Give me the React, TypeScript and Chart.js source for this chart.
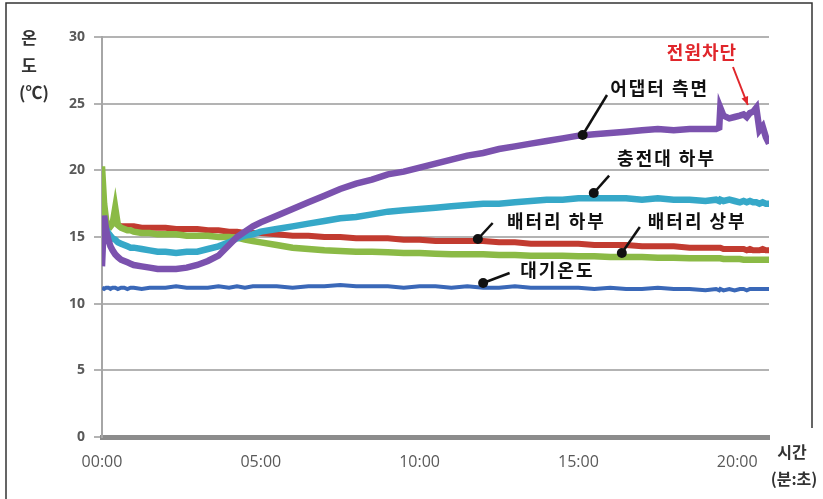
import React, { useEffect, useRef } from 'react';
import { Chart, registerables } from 'chart.js';
Chart.register(...registerables);

// time in seconds since start
const timeSec = [0,4,8,12,16,20,25,30,36,42,48,54,60,75,90,105,120,140,160,180,200,220,240,255,270,285,300,330,360,390,420,450,480,510,540,570,600,630,660,690,720,750,780,810,840,870,900,930,960,990,1020,1050,1080,1110,1140,1160,1166,1168,1174,1185,1195,1205,1212,1218,1224,1230,1236,1242,1248,1254,1260];

// 어댑터 측면
const adapterSide = [12.8,16.6,15.5,14.8,14.3,14.0,13.7,13.5,13.3,13.2, 13.1,13.0,12.9,12.8,12.7,12.6,12.6,12.6,12.7,12.9, 13.2,13.6,14.4,15.0,15.4,15.8,16.1,16.6,17.1,17.6, 18.1,18.6,19.0,19.3,19.7,19.9,20.2,20.5,20.8,21.1, 21.3,21.6,21.8,22.0,22.2,22.4,22.6,22.7,22.8,22.9, 23.0,23.1,23.0,23.1,23.1,23.1,23.2,24.7,24.1,23.9, 24.0,24.1,24.2,24.0,24.3,24.4,24.7,23.0,23.3,22.5, 22.0];
// 충전대 하부
const cradleBottom = [16.2,15.9,15.6,15.3,15.1,14.9,14.8,14.6,14.5,14.4, 14.3,14.2,14.2,14.1,14.0,13.9,13.9,13.8,13.9,13.9, 14.1,14.3,14.6,14.9,15.1,15.2,15.4,15.6,15.8,16.0, 16.2,16.4,16.5,16.7,16.9,17.0,17.1,17.2,17.3,17.4, 17.5,17.5,17.6,17.7,17.8,17.8,17.9,17.9,17.9,17.9, 17.8,17.9,17.8,17.8,17.7,17.8,17.7,17.8,17.7,17.8, 17.7,17.6,17.7,17.6,17.7,17.6,17.6,17.5,17.6,17.5, 17.5];
// 배터리 상부
const batteryTop = [20.3,17.5,16.2,15.9,15.8,16.0,17.2,15.9,15.7,15.6, 15.5,15.5,15.4,15.3,15.3,15.2,15.2,15.2,15.1,15.1, 15.1,15.0,15.0,14.95,14.8,14.7,14.6,14.4,14.2,14.1, 14.0,13.95,13.9,13.9,13.85,13.8,13.8,13.75,13.7,13.7, 13.7,13.65,13.65,13.6,13.6,13.6,13.55,13.55,13.5,13.5, 13.5,13.45,13.45,13.4,13.4,13.4,13.4,13.4,13.35,13.35, 13.35,13.35,13.3,13.3,13.3,13.3,13.3,13.3,13.3,13.3, 13.3];
// 배터리 하부
const batteryBottom = [null,null,null,null,null,null,null,15.9,15.8,15.8, 15.8,15.8,15.8,15.7,15.7,15.7,15.7,15.6,15.6,15.6, 15.5,15.5,15.4,15.4,15.3,15.3,15.3,15.2,15.1,15.1, 15.0,15.0,14.9,14.9,14.9,14.8,14.8,14.7,14.7,14.7, 14.7,14.6,14.6,14.5,14.5,14.5,14.5,14.4,14.4,14.4, 14.3,14.3,14.3,14.2,14.2,14.2,14.2,14.2,14.1,14.1, 14.1,14.1,14.1,14.0,14.1,14.0,14.0,14.0,14.1,14.0, 14.0];
// 대기온도
const airTemp = [11.2,11.1,11.2,11.2,11.1,11.2,11.2,11.1,11.2,11.2, 11.1,11.2,11.2,11.1,11.2,11.2,11.2,11.3,11.2,11.2, 11.2,11.3,11.2,11.3,11.2,11.3,11.3,11.3,11.2,11.3, 11.3,11.4,11.3,11.3,11.3,11.2,11.3,11.3,11.2,11.3, 11.2,11.2,11.3,11.2,11.2,11.2,11.2,11.1,11.2,11.1, 11.1,11.2,11.1,11.1,11.0,11.1,11.0,11.1,11.0,11.1, 11.0,11.1,11.1,11.0,11.1,11.1,11.1,11.1,11.1,11.1, 11.1];

const xTickValues = [0, 300, 600, 900, 1200];
const yMin = 0;
const yMax = 30;
const yStep = 5;

// callouts: label, dot (t, v), line end (t, v), text anchor (t, v)
const callouts = [
  { text: '어댑터 측면', dot: [908, 22.65], end: [954, 25.65], at: [960, 26.2] },
  { text: '충전대 하부', dot: [929, 18.3], end: [958, 19.6], at: [973, 20.9] },
  { text: '배터리 하부', dot: [710, 14.85], end: [738, 16.05], at: [765, 16.2] },
  { text: '배터리 상부', dot: [982, 13.8], end: [1016, 15.75], at: [1031, 16.2] },
  { text: '대기온도', dot: [720, 11.55], end: [770, 12.3], at: [790, 12.5] },
];
const powerOff = { text: '전원차단', at: [1067, 28.9], from: [1192, 27.75], to: [1220, 24.9] };

function pts(arr: (number | null)[]) {
  const out: { x: number; y: number }[] = [];
  timeSec.forEach((t, i) => {
    const v = arr[i];
    if (v !== null && v !== undefined) out.push({ x: t, y: v });
  });
  return out;
}

function fmt(v: number) {
  const m = Math.floor(v / 60);
  const s = Math.round(v % 60);
  return `${String(m).padStart(2, '0')}:${String(s).padStart(2, '0')}`;
}

const KFONT = '"Noto Sans CJK KR", "Noto Sans", sans-serif';

const overlay = {
  id: 'overlay',
  afterDraw(chart: any) {
    const ctx = chart.ctx as CanvasRenderingContext2D;
    const xs = chart.scales.x;
    const ys = chart.scales.y;
    const px = (t: number) => xs.getPixelForValue(t);
    const py = (v: number) => ys.getPixelForValue(v);
    ctx.save();
    // frame
    ctx.strokeStyle = '#333';
    ctx.lineWidth = 1.5;
    ctx.beginPath();
    ctx.moveTo(6, 499);
    ctx.lineTo(6, 3);
    ctx.lineTo(812, 3);
    ctx.lineTo(812, 428);
    ctx.stroke();

    // axis titles
    ctx.fillStyle = '#333';
    ctx.font = `bold 17px ${KFONT}`;
    ctx.textAlign = 'center';
    ctx.textBaseline = 'middle';
    ctx.fillText('온', 29, 38);
    ctx.fillText('도', 29, 66);
    ctx.fillText('(℃)', 34, 93);
    ctx.font = `bold 16px ${KFONT}`;
    ctx.fillText('시간', 792, 452);
    ctx.fillText('(분:초)', 794, 479);

    // callouts
    ctx.strokeStyle = '#111';
    ctx.fillStyle = '#111';
    ctx.lineWidth = 2.5;
    callouts.forEach((c) => {
      ctx.beginPath();
      ctx.moveTo(px(c.dot[0]), py(c.dot[1]));
      ctx.lineTo(px(c.end[0]), py(c.end[1]));
      ctx.stroke();
      ctx.beginPath();
      ctx.arc(px(c.dot[0]), py(c.dot[1]), 5, 0, Math.PI * 2);
      ctx.fill();
      ctx.font = `bold 18px ${KFONT}`;
      (ctx as any).letterSpacing = '2px';
      ctx.textAlign = 'left';
      ctx.textBaseline = 'middle';
      ctx.fillText(c.text, px(c.at[0]), py(c.at[1]));
      (ctx as any).letterSpacing = '0px';
    });

    // power off arrow
    const red = '#e0262b';
    ctx.strokeStyle = red;
    ctx.fillStyle = red;
    ctx.lineWidth = 2;
    const x1 = px(powerOff.from[0]), y1 = py(powerOff.from[1]);
    const x2 = px(powerOff.to[0]), y2 = py(powerOff.to[1]);
    ctx.beginPath();
    ctx.moveTo(x1, y1);
    ctx.lineTo(x2, y2);
    ctx.stroke();
    const ang = Math.atan2(y2 - y1, x2 - x1);
    ctx.beginPath();
    ctx.moveTo(x2, y2);
    ctx.lineTo(x2 - 9 * Math.cos(ang - 0.4), y2 - 9 * Math.sin(ang - 0.4));
    ctx.lineTo(x2 - 9 * Math.cos(ang + 0.4), y2 - 9 * Math.sin(ang + 0.4));
    ctx.closePath();
    ctx.fill();
    ctx.font = `bold 18px ${KFONT}`;
    (ctx as any).letterSpacing = '1px';
    ctx.textAlign = 'left';
    ctx.textBaseline = 'middle';
    ctx.fillText(powerOff.text, px(powerOff.at[0]), py(powerOff.at[1]));
    (ctx as any).letterSpacing = '0px';
    ctx.restore();
  },
};

export default function App() {
  const ref = useRef<HTMLCanvasElement>(null);
  useEffect(() => {
    document.body.style.margin = '0';
    const series = [
      { label: '어댑터 측면', data: pts(adapterSide), color: '#7b52ae', w: 6.5 },
      { label: '충전대 하부', data: pts(cradleBottom), color: '#36a8c8', w: 6.5 },
      { label: '배터리 상부', data: pts(batteryTop), color: '#8bba46', w: 6.5 },
      { label: '배터리 하부', data: pts(batteryBottom), color: '#c23b30', w: 6 },
      { label: '대기온도', data: pts(airTemp), color: '#3a68b8', w: 4 },
    ];
    const chart = new Chart(ref.current!, {
      type: 'line',
      data: {
        datasets: series.map((s) => ({
          label: s.label,
          data: s.data,
          borderColor: s.color,
          backgroundColor: s.color,
          borderWidth: s.w,
          pointRadius: 0,
          tension: 0,
          fill: false,
        })),
      },
      options: {
        animation: false,
        responsive: false,
        devicePixelRatio: 1,
        layout: { padding: { left: 42, top: 37, right: 54, bottom: 20 } },
        plugins: { legend: { display: false }, tooltip: { enabled: false } },
        scales: {
          x: {
            type: 'linear',
            min: 0,
            max: 1260,
            afterBuildTicks: (s: any) => {
              s.ticks = xTickValues.map((v) => ({ value: v }));
            },
            afterFit: (s: any) => {
              s.height = 42;
            },
            grid: { display: false },
            border: { display: true, color: '#8c8c8c', width: 5 },
            ticks: {
              callback: (v: any) => fmt(Number(v)),
              color: '#595959',
              font: { family: '"Open Sans", sans-serif', size: 16 },
              padding: 8,
              maxRotation: 0,
              autoSkip: false,
            },
          },
          y: {
            min: yMin,
            max: yMax,
            afterFit: (s: any) => {
              s.width = 60;
            },
            grid: {
              color: '#b3b3b3',
              lineWidth: 2,
              tickLength: 8,
              tickColor: '#b3b3b3',
              tickWidth: 2,
            },
            border: { display: true, color: '#a6a6a6', width: 2 },
            ticks: {
              stepSize: yStep,
              color: '#595959',
              font: { family: '"Open Sans", sans-serif', size: 14, weight: 'bold' },
              padding: 9,
            },
          },
        },
      },
      plugins: [overlay],
    } as any);
    return () => chart.destroy();
  }, []);
  return (
    <div style={{ position: 'fixed', left: 0, top: 0, width: 823, height: 499, background: '#fff' }}>
      <canvas ref={ref} width={823} height={499} />
    </div>
  );
}
